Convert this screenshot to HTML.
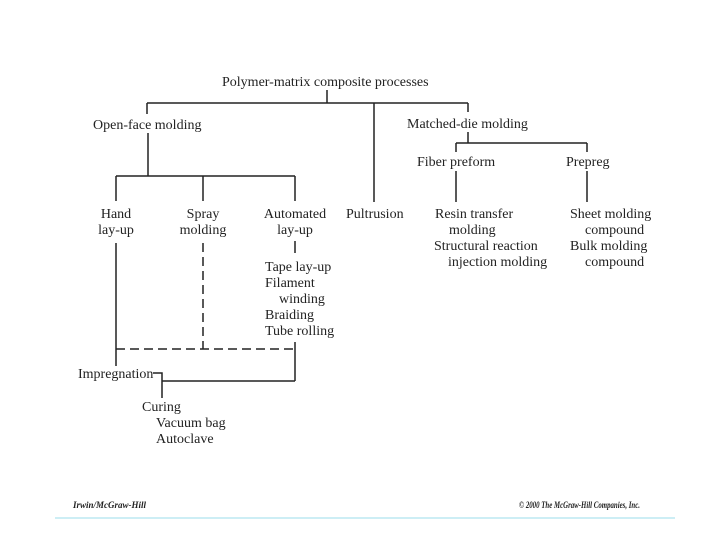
<!DOCTYPE html>
<html><head><meta charset="utf-8"><style>
html,body{margin:0;padding:0;background:#fff;}
svg{display:block}
text{font-family:"Liberation Serif",serif;font-size:14px;fill:#222;}
.f{font-size:9px;font-style:italic;font-weight:bold;}
</style></head><body>
<svg width="720" height="540" viewBox="0 0 720 540" xmlns="http://www.w3.org/2000/svg">
<g stroke="#222" stroke-width="1.5" fill="none">
<path d="M327 90V103M147 103H468M147 103V114M374 103V202M468 103V112"/>
<path d="M148 133V176M116 176H295M116 176V201M203 176V201M295 176V201"/>
<path d="M468 132V143M456 143H587M456 143V152M587 143V152M456 171V202M587 171V202"/>
<path d="M116 243V366M295 241V253M295 342V381M162 381H295M153 373H162V398"/>
<path d="M116 349H295M203 243V349" stroke-dasharray="9,5"/>
</g>
<text x="222" y="86">Polymer-matrix composite processes</text>
<text x="93" y="129">Open-face molding</text>
<text x="407" y="128">Matched-die molding</text>
<text x="417" y="166">Fiber preform</text>
<text x="566" y="166">Prepreg</text>
<g text-anchor="middle">
<text x="116" y="218">Hand</text><text x="116" y="234">lay-up</text>
<text x="203" y="218">Spray</text><text x="203" y="234">molding</text>
<text x="295" y="218">Automated</text><text x="295" y="234">lay-up</text>
</g>
<text x="346" y="218">Pultrusion</text>
<text x="265" y="271">Tape lay-up</text>
<text x="265" y="287">Filament</text>
<text x="279" y="303">winding</text>
<text x="265" y="319">Braiding</text>
<text x="265" y="335">Tube rolling</text>
<text x="435" y="218">Resin transfer</text>
<text x="449" y="234">molding</text>
<text x="434" y="250">Structural reaction</text>
<text x="448" y="266">injection molding</text>
<text x="570" y="218">Sheet molding</text>
<text x="585" y="234">compound</text>
<text x="570" y="250">Bulk molding</text>
<text x="585" y="266">compound</text>
<text x="78" y="378">Impregnation</text>
<text x="142" y="411">Curing</text>
<text x="156" y="427">Vacuum bag</text>
<text x="156" y="443">Autoclave</text>
<text class="f" x="73" y="508">Irwin/McGraw-Hill</text>
<text class="f" x="519" y="508" textLength="121" lengthAdjust="spacingAndGlyphs">© 2000 The McGraw-Hill Companies, Inc.</text>
<line x1="55" y1="518" x2="675" y2="518" stroke="#cdeef5" stroke-width="2"/>
</svg>
</body></html>
